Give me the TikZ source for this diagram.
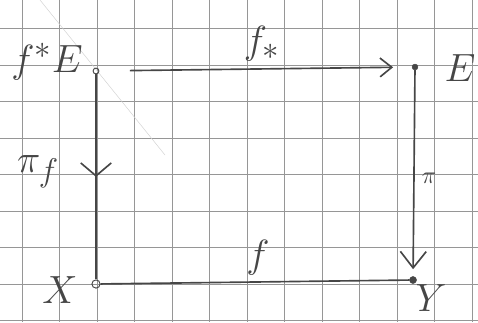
\documentclass[tikz,border=0pt]{standalone}
\usepackage{tikz}
\usetikzlibrary{arrows.meta,decorations.markings}
\definecolor{pencil}{RGB}{70,70,70}
\definecolor{gridline}{RGB}{150,150,150}
\newcommand{\hand}[1]{\scalebox{1.35}{#1}}

\begin{document}
\begin{tikzpicture}[x=0.03cm,y=-0.03cm,
    lbl/.style={text=pencil,font=\fontsize{24.88}{27}\selectfont},
    smalllbl/.style={text=pencil,font=\fontsize{20}{22}\selectfont},
    opendot/.style={circle,draw=pencil,thick,inner sep=0pt,minimum size=5pt},
    fulldot/.style={circle,draw=pencil,fill=pencil,inner sep=0pt,minimum size=5pt},
    pen/.style={draw=pencil,line width=1.4pt}]
    \useasboundingbox (0,0) rectangle (478,322);
    \fill[white] (0,0) rectangle (478,322);
    % squared paper
    \foreach \x in {22,59.5,...,473} \draw[gridline,line width=0.8pt] (\x,0)--(\x,322);
    \foreach \y in {28.5,65,...,321} \draw[gridline,line width=0.8pt] (0,\y)--(478,\y);
    \draw[gray!35,line width=0.4pt] (40,0)--(165,155);
    \node[opendot] (pE) at (96,71) {};
    \node[fulldot] (E) at (415,67) {};
    \node[opendot,minimum size=7pt] (X) at (96,284) {};
    \node[fulldot,minimum size=6pt] (Y) at (413,280) {};
    \draw[pen,-{Straight Barb[length=10pt,width=16pt]},shorten <=26pt,shorten >=16pt] (pE)--(E);
    \draw[pen,postaction={decorate},decoration={markings,
        mark=at position 0.5 with {\arrow{Straight Barb[length=11pt,width=26pt]}}}] (pE)--(X);
    \draw[pen,-{Straight Barb[length=14pt,width=22pt]},shorten >=6pt] (E)--(Y);
    \draw[pen] (X)--(Y);
    \node[lbl,anchor=east,inner sep=1pt] (lpE) at (84,62) {\hand{$f^{*}E$}};
    \node[lbl] (lE) at (460,68) {\hand{$E$}};
    \node[lbl] (lfs) at (262,44) {\hand{$f_*$}};
    \node[lbl] (lpif) at (38,172) {\hand{$\pi_f$}};
    \node[smalllbl] (lpi) at (429,178) {$\pi$};
    \node[lbl] (lf) at (258,258) {\hand{$f$}};
    \node[lbl] (lX) at (60,290) {\hand{$X$}};
    \node[lbl] (lY) at (431,298) {\hand{$Y$}};
\end{tikzpicture}
\end{document}
